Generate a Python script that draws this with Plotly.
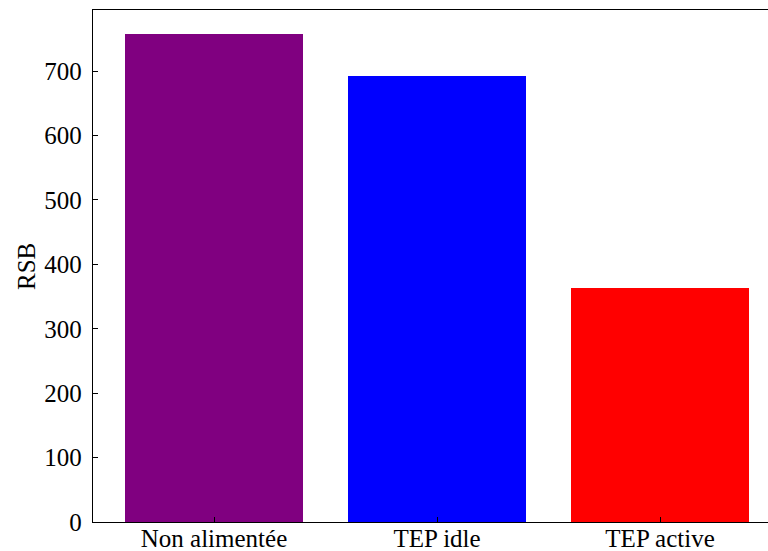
import plotly.graph_objects as go

categories = ["Non alimentée", "TEP idle", "TEP active"]
rsb_values = [757, 692, 364]
bar_colors = ["purple", "blue", "red"]
y_ticks = [0, 100, 200, 300, 400, 500, 600, 700]
y_label = "RSB"

font_family = "Liberation Serif, DejaVu Serif, serif"

fig = go.Figure(
    go.Bar(
        x=list(range(len(categories))),
        y=rsb_values,
        width=0.8,
        marker=dict(color=bar_colors, line=dict(width=0)),
    )
)

fig.update_layout(
    width=768,
    height=551,
    margin=dict(l=93, r=0, t=10, b=29),
    paper_bgcolor="white",
    plot_bgcolor="white",
    font=dict(family=font_family, size=25, color="black"),
    showlegend=False,
    bargap=0,
)

fig.update_xaxes(
    range=[-0.5426, 2.484],
    tickvals=list(range(len(categories))),
    ticktext=categories,
    tickfont=dict(size=25),
    ticks="inside",
    ticklen=5,
    tickwidth=1,
    tickcolor="black",
    showline=True,
    linecolor="black",
    linewidth=1.3,
    mirror=True,
    showgrid=False,
    zeroline=False,
    automargin=False,
    ticklabelstandoff=-6,
)

fig.update_yaxes(
    range=[0, 795],
    tickvals=y_ticks,
    ticks="inside",
    ticklen=5,
    tickwidth=1,
    tickcolor="black",
    showline=True,
    linecolor="black",
    linewidth=1.3,
    showgrid=False,
    zeroline=False,
    automargin=False,
    ticklabelstandoff=5,
)

fig.add_annotation(
    text=y_label,
    xref="paper",
    yref="paper",
    x=0,
    y=0.498,
    xanchor="center",
    yanchor="middle",
    xshift=-67,
    textangle=-90,
    showarrow=False,
    font=dict(family=font_family, size=25, color="black"),
)

fig.write_html(
    "out.html",
    config={"displayModeBar": False},
    post_script="document.body.style.margin='0';document.body.style.overflow='hidden';",
)
